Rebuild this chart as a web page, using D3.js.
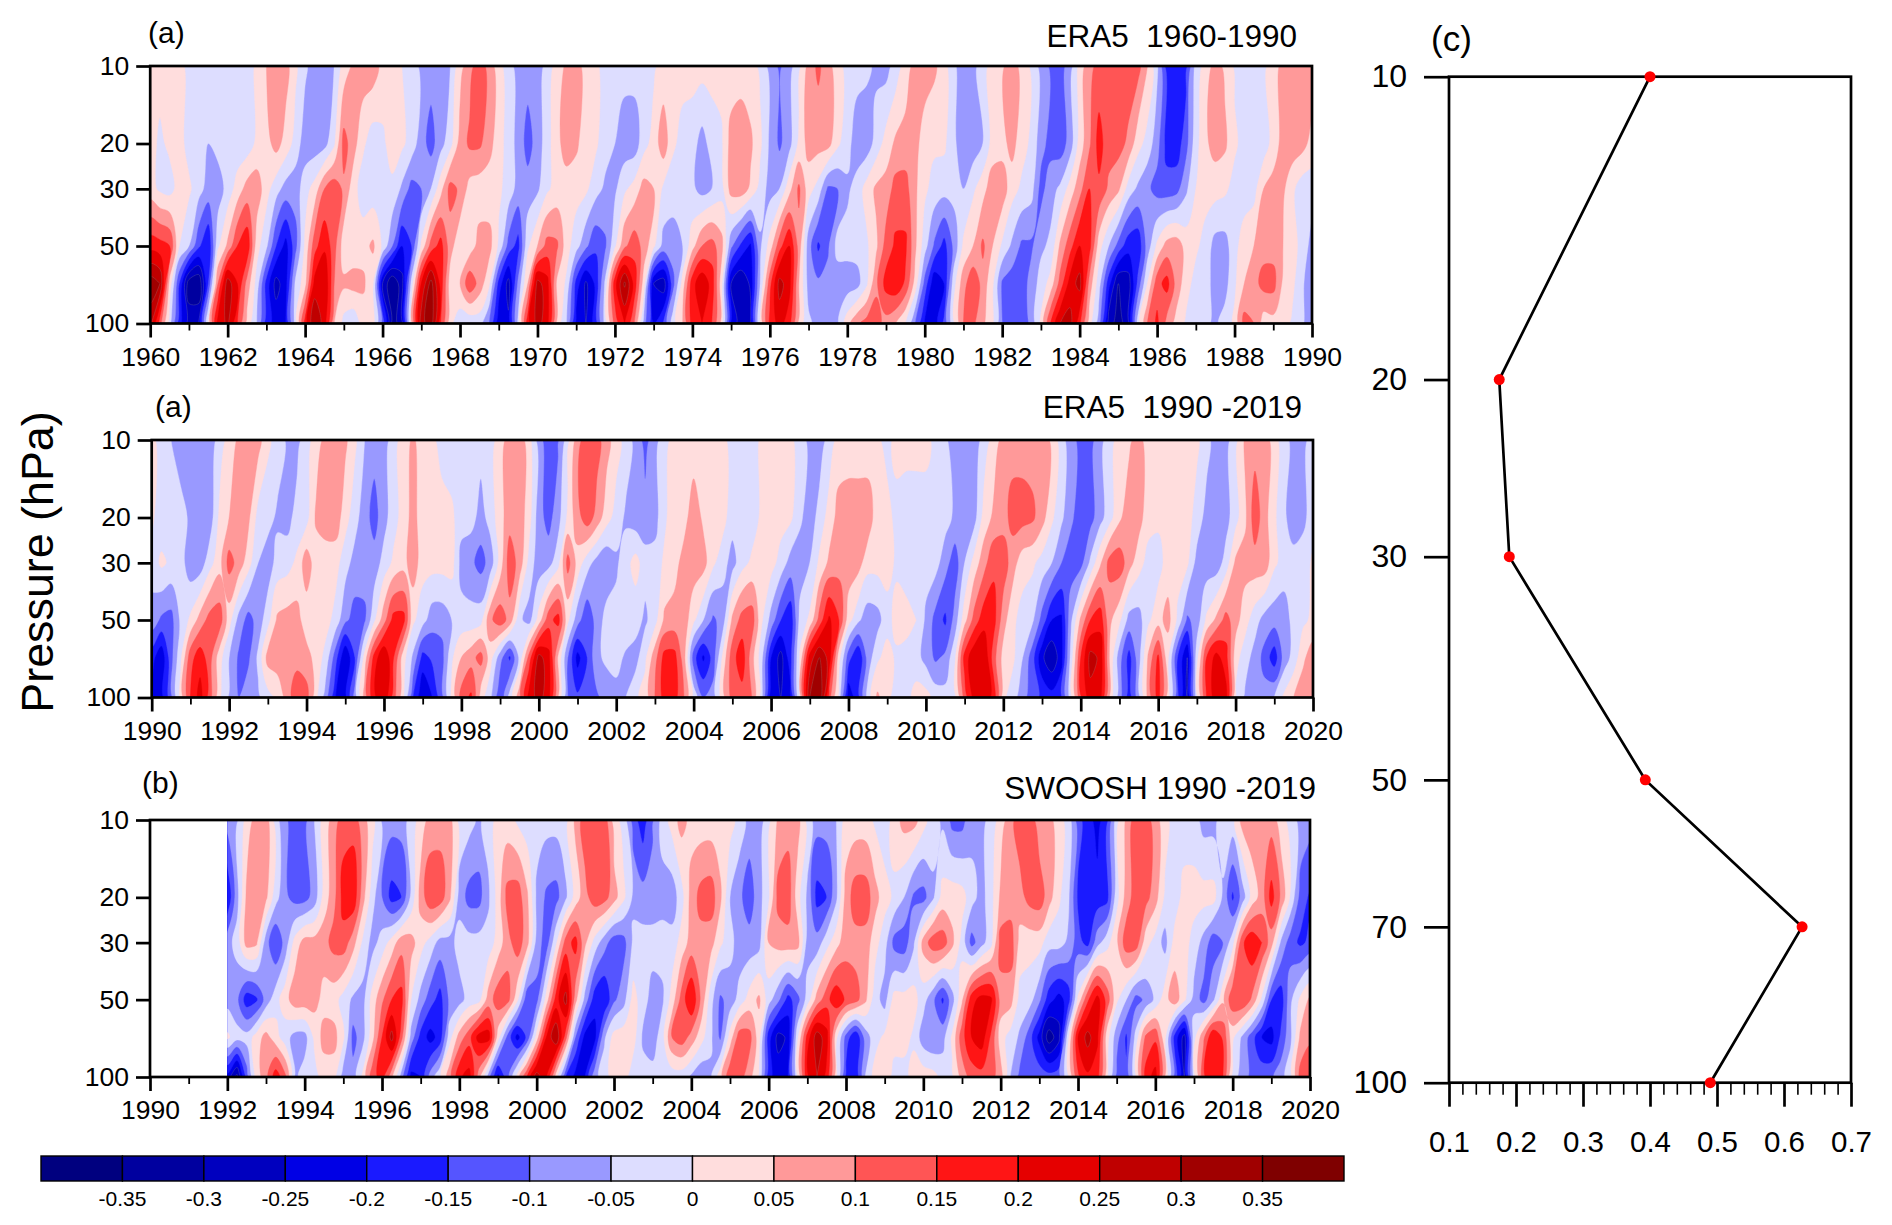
<!DOCTYPE html>
<html><head><meta charset="utf-8">
<script src="https://cdn.jsdelivr.net/npm/d3@7"></script>
<style>html,body{margin:0;padding:0;background:#fff}svg{display:block}text{font-family:"Liberation Sans",Arial,sans-serif;fill:#000}</style>
</head><body><svg id="c" width="1892" height="1225"></svg>
<script>
// shared levels and labels (field values are in hundredths)
const pressureLevels=[10,20,30,50,70,100];
const pressureTicks=[10,20,30,50,100];
const contourLevels=[-35,-30,-25,-20,-15,-10,-5,0,5,10,15,20,25,30,35];
const bandColors=["#00007f","#00009f","#0000bf","#0000e5","#1a1aff","#5555ff","#9999ff","#ddddff","#ffdddd","#ff9999","#ff5555","#ff1515","#e50000","#bf0000","#a00000","#7f0000"];
const colorbarLabels=["-0.35","-0.3","-0.25","-0.2","-0.15","-0.1","-0.05","0","0.05","0.1","0.15","0.2","0.25","0.3","0.35"];

// Panel 1: ERA5 1960-1990, four samples a year
const early10=[2,2,2,2,-2,-3,-3,-3,-3,-3,-3,1,5,8,7,1,-4,-8,-8,-5,2,6,8,8,3,2,0,-3,-6,-8,-8,-5,3,8,13,8,2,-3,-7,-8,-8,-3,2,6,7,3,1,-2,-3,-3,-3,-3,-1,2,2,2,2,2,2,2,2,2,2,-1,-7,-11,-7,-2,7,11,7,2,-2,-3,-4,-6,-7,-3,2,7,8,6,2,-4,-8,-7,-2,2,4,8,3,-1,-7,-11,-12,-8,2,8,12,13,13,13,12,5,-4,-18,-20,-17,-3,2,7,4,-1,-3,-3,-1,2,7,8,8,8];
const early20=[2,-1,1,2,-2,-3,-5,-3,-3,-3,-3,1,3,7,3,-2,-8,-8,-7,-1,12,7,1,-3,-1,2,1,-2,-8,-12,-7,-2,7,11,11,7,2,-2,-7,-12,-8,-2,3,8,6,2,1,-3,-5,-8,-8,-2,2,8,1,-2,-3,-7,-3,-1,7,9,6,1,-6,-11,-7,1,7,7,7,1,-3,-8,-8,-3,2,6,7,7,2,1,1,-4,-8,-8,-5,2,3,7,2,-1,-8,-12,-13,-8,2,9,17,12,12,9,2,-2,-8,-17,-18,-12,-2,4,7,6,1,-2,-3,-3,2,7,8,7,3];
const early30=[2,-1,-2,2,1,-3,-7,-8,-3,2,7,8,2,-3,-7,-8,-2,2,10,13,9,2,-3,-3,0,-1,-6,-12,-10,-5,3,12,9,3,2,2,1,-2,-7,-8,-6,-1,2,2,2,1,-3,-6,-6,-1,2,7,5,-1,-3,-3,-4,-7,-5,-2,7,8,4,-2,-7,-5,3,11,2,-2,-11,-10,-6,-3,2,6,7,12,12,6,1,-2,-3,-3,-5,-1,3,8,8,2,-1,-3,-12,-7,-4,2,8,15,14,9,6,-2,-6,-9,-12,-13,-12,-6,0,2,2,1,-2,-3,-2,5,7,6,1,-3,-3];
const early50=[18,17,15,0,-5,-14,-20,-1,6,15,19,2,-4,-15,-22,-12,1,13,19,12,2,2,3,6,-1,-10,-20,-15,1,12,17,7,1,2,7,7,-1,-12,-17,-1,5,12,11,2,-3,-9,-14,-11,-1,9,13,8,1,-7,-7,-5,3,10,12,7,-9,-16,-21,-6,2,13,20,8,-8,-16,-11,-3,-3,-3,-1,4,12,16,16,6,-3,-11,-17,-9,1,5,11,5,-1,-6,-11,-11,-6,-4,6,13,20,17,2,-5,-12,-18,-19,-8,1,7,8,3,1,-2,-7,-7,-2,3,5,8,8,5,2,-2,-7];
const early70=[33,30,3,-15,-33,-35,-15,10,28,20,8,-2,-17,-27,-22,-4,3,22,25,10,6,7,6,1,-25,-35,-27,-3,20,32,18,2,5,14,8,1,-17,-27,-9,5,27,22,4,-1,-17,-26,-19,-4,18,31,18,2,-25,-28,-12,2,18,24,18,2,-25,-30,-24,-5,13,27,22,5,-7,-9,-8,-8,-8,-7,-1,9,17,19,14,3,-12,-24,-20,-2,8,14,8,1,-11,-13,-13,-8,-3,2,12,22,27,8,-3,-18,-30,-28,-14,0,13,17,8,2,-2,-3,-7,-7,-1,5,8,12,12,4,1,-4,-10];
const early100=[27,12,-3,-18,-27,-25,1,22,26,15,3,-5,-18,-22,-20,-3,17,30,22,5,-2,-4,2,2,-12,-32,-28,3,28,33,15,1,-3,-4,-3,-10,-24,-24,-4,18,27,22,3,-5,-22,-25,-18,-3,12,20,10,-8,-20,-15,-2,5,17,20,15,3,-22,-27,-25,1,16,22,17,3,-4,-7,-7,-6,3,9,12,12,8,5,0,-10,-21,-23,-14,-1,10,11,6,1,-10,-13,-13,-9,1,15,25,27,16,2,-8,-28,-32,-28,-3,10,16,8,3,-1,-3,-4,-6,-3,1,12,10,2,3,2,-1,-4,-10];

// Panel 2: ERA5 1990-2019
const late10=[2,-3,-5,-8,-8,-8,-8,-3,2,6,8,7,1,-2,-6,-7,-2,2,7,8,6,1,-5,-8,-8,-2,2,6,2,1,-2,-3,-3,-3,-3,-2,2,8,8,2,-8,-13,-11,-2,8,13,12,7,2,-2,-7,-12,-7,-2,2,2,2,2,2,2,-3,-3,-3,1,2,2,1,-2,-7,-8,-3,2,2,2,2,1,-2,2,2,2,2,-2,-4,-8,-8,-8,-3,2,7,8,8,8,8,4,-3,-8,-12,-12,-7,-2,2,4,7,2,2,0,2,2,1,-3,-8,-7,-2,6,8,8,2,-3,-7,-7,-2];
const late20=[1,-3,-3,-3,-6,-8,-8,1,5,8,6,-2,-3,-6,-7,-3,-2,6,8,8,2,-3,-8,-12,-7,-2,2,7,2,2,2,1,-3,-3,-7,-3,3,8,8,2,-8,-12,-7,1,8,13,8,2,-2,-6,-8,-8,-7,-1,3,3,8,4,2,2,-3,-3,-3,1,2,2,1,-4,-8,-3,2,7,8,8,8,2,2,-2,-3,-3,-3,-3,-3,-6,-8,-7,2,6,8,12,12,11,7,1,-4,-9,-13,-12,-7,-2,4,8,7,2,1,2,2,2,-2,-7,-8,-7,-2,4,13,7,1,-4,-8,-6,-3];
const late30=[-3,1,-1,-3,-8,-8,-2,3,12,8,2,-5,-8,-3,-2,1,8,2,2,2,-3,-7,-8,-8,-3,1,3,8,2,2,2,2,-7,-9,-12,-8,2,13,8,-2,-8,-7,-2,12,3,-3,-7,-9,-6,-2,2,-3,-3,1,3,7,8,7,1,-3,-7,-2,1,2,2,-2,-7,-8,-5,1,6,8,8,7,2,2,2,-1,-3,-3,-3,-3,-8,-13,-5,2,8,14,13,7,2,1,-2,-5,-10,-13,-12,-4,4,12,13,7,2,-2,-2,2,2,1,-7,-8,-8,-3,6,7,8,8,1,-2,-3,-3,1];
const late50=[-7,-11,-12,-4,1,7,12,13,2,-7,-12,-8,-2,6,7,7,2,2,2,-2,-9,-12,-11,-1,8,17,17,1,-3,-8,-8,-5,-3,-3,-2,9,13,8,-4,-7,2,13,17,1,-8,-14,-8,-3,-3,-1,-3,-6,-2,6,7,8,1,-5,-11,-8,6,12,13,1,-7,-15,-19,-3,1,12,21,15,2,-4,-8,-7,-2,2,2,0,-6,-12,-16,-8,3,12,18,17,7,1,-2,-4,-12,-20,-21,-6,6,15,18,6,1,-7,-7,-1,3,7,-1,-11,-8,1,6,12,7,2,-3,-7,-8,-8,-3,-1,1];
const late70=[-18,-24,-12,-1,13,18,12,2,-5,-11,-11,-4,7,8,8,8,7,3,-2,-13,-25,-15,2,17,25,15,2,-6,-17,-14,-12,-1,5,8,12,2,-8,-16,-4,12,27,22,4,-10,-22,-15,-6,-4,-3,-6,-7,-1,8,17,17,7,-13,-21,-13,1,13,18,7,-3,-20,-27,-17,1,22,30,23,2,-13,-20,-8,-1,2,-1,-2,-3,-7,-11,-9,-1,17,24,25,12,3,1,-5,-13,-24,-29,-22,-3,15,27,24,4,-8,-17,-7,6,16,1,-15,-25,-2,15,22,17,2,-3,-7,-12,-18,-8,-3,4,8];
const late100=[-22,-22,-12,2,15,22,12,1,-6,-10,-7,-6,-2,1,7,14,12,1,-8,-20,-22,-8,7,19,24,12,1,-15,-25,-20,-12,1,12,16,2,-4,-15,-3,8,22,27,22,4,-10,-14,-13,-11,-8,-7,-5,-1,2,10,17,17,10,-2,-10,-8,3,12,13,10,-3,-25,-25,-22,1,30,35,12,-2,-24,-17,-3,6,1,-2,-2,2,2,-2,-3,-2,12,22,24,18,1,-3,-8,-13,-16,-18,-16,-2,14,23,22,3,-8,-18,-7,7,17,2,-14,-27,-2,15,23,22,-1,-6,-8,-8,-5,1,5,8,8];

// Panel 3: SWOOSH 1992-2019 (no data before 1992)
const swoosh10=[-8,-6,2,7,8,-3,-9,-13,-12,-5,2,7,13,13,7,2,-6,-8,-8,-3,2,7,8,7,-2,-3,-6,-3,2,2,-1,-3,-3,-3,-3,-2,6,13,13,13,2,-2,-13,-18,-11,-3,2,7,3,2,2,2,2,-2,-7,-8,-2,6,8,7,-2,-8,-8,-5,2,2,2,-1,-3,2,7,7,2,-3,-6,-12,-12,-7,-7,-3,2,8,13,13,7,7,2,-2,-13,-18,-22,-17,-2,6,13,13,7,2,-3,-3,-3,-7,-7,-2,-2,7,8,8,8,2,-2,-7,-8];
const swoosh20=[-20,-7,6,8,6,-3,-9,-12,-12,-8,2,8,17,19,7,-3,-10,-17,-15,-4,7,14,13,6,-7,-12,-12,-6,2,12,13,6,-6,-11,-12,-6,2,8,13,12,7,1,-6,-8,-8,-7,-8,-2,7,12,13,6,-5,-9,-13,-7,-1,12,13,2,-6,-17,-15,-6,7,13,13,7,2,-1,-5,-11,-12,-6,2,3,2,-3,-7,-2,6,7,8,12,13,7,1,-4,-16,-18,-18,-17,-2,7,13,12,7,-1,-3,2,2,2,2,-6,-16,-8,2,7,17,9,-1,-12,-16];
const swoosh30=[-7,-3,7,6,-8,-15,-8,2,7,7,8,12,13,7,-1,-7,-3,2,8,7,2,-2,-7,-7,-3,-3,-3,-3,2,8,13,7,-7,-13,-1,12,17,6,-2,-8,-13,-12,-4,-3,-3,-3,-3,2,7,8,7,1,-3,-8,-8,-7,5,7,8,7,-7,-8,-2,3,8,8,8,2,-3,-12,-13,-6,7,13,13,6,-2,-12,-7,-2,12,13,3,2,2,-3,-3,-6,-13,-17,-7,-2,4,13,13,2,-2,-7,2,2,-2,-7,-13,-10,-2,14,19,15,7,-6,-13,-16,-14];
const swoosh50=[-7,-9,-18,-16,-8,-2,3,8,8,7,3,2,-2,-6,-7,2,9,15,17,0,-7,-13,-17,-9,-7,-3,-2,7,13,12,1,-14,-12,2,17,27,7,-7,-18,-20,-11,-7,2,-3,-7,-6,2,12,20,9,-3,-11,-8,-3,2,6,-3,-9,-17,-12,-3,7,13,19,14,12,6,-3,-7,2,2,2,-3,-9,-16,-7,4,18,22,21,8,7,-2,-3,-9,-18,-22,-18,1,14,22,13,1,-5,-12,-9,-4,3,8,1,-7,-12,-6,4,14,15,9,-1,-15,-18,-6,1,6];
const swoosh70=[1,-3,-3,2,7,2,-3,-7,-7,1,7,7,1,-12,-7,3,15,27,12,-7,-17,-22,-18,-2,7,13,22,23,2,-12,-22,-14,2,20,30,12,-10,-22,-22,-6,2,3,2,-6,-8,-2,10,13,8,2,-4,-11,2,13,12,2,-18,-27,-24,-1,17,28,22,1,-12,-20,-8,-2,1,2,2,-1,-8,-10,-7,1,13,20,23,14,2,-2,-6,-13,-22,-33,-27,-1,20,27,21,2,-8,-16,-3,11,14,1,-17,-27,-2,9,20,14,1,-6,-13,-20,-22,-14,-6,6,9];
const swoosh100=[-22,-32,-13,2,8,18,11,-6,-3,-2,2,2,-8,-8,1,13,17,6,-8,-22,-20,-8,-1,8,19,22,7,-8,-22,-12,2,15,28,20,2,-15,-22,-20,-7,-2,2,2,-3,-3,-3,-3,-3,-3,-6,-9,-6,3,14,12,7,-1,-19,-22,-20,-1,19,25,18,1,-17,-20,-5,2,3,-2,-2,2,3,2,-2,-1,7,12,13,12,7,-5,-12,-13,-12,-13,-12,-1,14,19,17,1,-12,-14,-1,17,22,4,-12,-25,-3,14,20,15,-3,-7,-12,-12,-11,-7,-2,12,14];

// Panel (c)
const profilePressure=[10,20,30,50,70,100];
const profileValues=[0.4,0.175,0.19,0.393,0.627,0.49];
const profileTicks=[0.1,0.2,0.3,0.4,0.5,0.6,0.7];
const profileMinor=[0.12,0.14,0.16,0.18,0.22,0.24,0.26,0.28,0.32,0.34,0.36,0.38,0.42,0.44,0.46,0.48,0.52,0.54,0.56,0.58,0.62,0.64,0.66,0.68];

const svg=d3.select("#c");
const AW=2.7;
const ringLine=d3.line().curve(d3.curveCatmullRomClosed.alpha(0.5));
let clipId=0;

function drawPanel(o){
  const g=svg.append("g");
  const x=d3.scaleLinear().domain(o.xDomain).range([o.left,o.right]);
  const y=d3.scaleLog().domain([10,100]).range([o.top,o.bottom]);
  const n=o.rows[0].length, m=o.rows.length;
  const vals=o.rows.flat();
  const dataEnd=o.dataStart+(n-1)/4;
  const logP=d3.scaleLinear().domain(d3.range(m)).range(pressureLevels.map(Math.log10));
  const fx=c=>c<=0?x(o.dataStart)-6:c>=n?x(dataEnd)+6:x(o.dataStart+Math.max(0,Math.min(n-1,c-0.5))/4);
  const fy=c=>c<=0?y(10)-6:c>=m?y(100)+6:y(Math.pow(10,logP(Math.max(0,Math.min(m-1,c-0.5)))));
  const id="clip"+(clipId++);
  const rx=x(o.dataStart), rw=x(dataEnd)-rx;
  svg.append("clipPath").attr("id",id).append("rect").attr("x",rx).attr("y",o.top).attr("width",rw).attr("height",o.bottom-o.top);
  const field=g.append("g").attr("clip-path",`url(#${id})`);
  field.append("rect").attr("x",rx).attr("y",o.top).attr("width",rw).attr("height",o.bottom-o.top).attr("fill",bandColors[0]);
  const cg=d3.contours().size([n,m]);
  contourLevels.forEach((lv,i)=>{
    const c=cg.contour(vals,lv);
    let d="";
    c.coordinates.forEach(poly=>poly.forEach(ring=>{
      const pts=[];
      ring.slice(0,-1).forEach(p=>{
        const q=[fx(p[0]),fy(p[1])];
        const l=pts[pts.length-1];
        if(!l||Math.hypot(l[0]-q[0],l[1]-q[1])>0.3) pts.push(q);
      });
      if(pts.length>2) d+=ringLine(pts);
    }));
    field.append("path").attr("d",d).attr("fill",bandColors[i+1]).attr("fill-rule","evenodd")
      .attr("stroke",Math.abs(lv)>=25?"rgba(150,150,150,0.35)":bandColors[i+1])
      .attr("stroke-width",Math.abs(lv)>=25?0.7:0.4);
  });
  g.append("rect").attr("x",o.left).attr("y",o.top).attr("width",o.right-o.left).attr("height",o.bottom-o.top)
    .attr("fill","none").attr("stroke","#000").attr("stroke-width",AW);
  const years=d3.range(o.xDomain[0],o.xDomain[1]+1);
  const minor=g.append("g").attr("transform",`translate(0,${o.bottom})`)
    .call(d3.axisBottom(x).tickValues(years.filter(v=>(v-o.xDomain[0])%2)).tickSize(7).tickSizeOuter(0).tickFormat(""));
  const major=g.append("g").attr("transform",`translate(0,${o.bottom})`)
    .call(d3.axisBottom(x).tickValues(years.filter(v=>(v-o.xDomain[0])%2==0)).tickSize(14).tickPadding(9.5).tickSizeOuter(0).tickFormat(d3.format("d")));
  const left=g.append("g").attr("transform",`translate(${o.left},0)`)
    .call(d3.axisLeft(y).tickValues(pressureTicks).tickSize(14).tickPadding(7).tickSizeOuter(0).tickFormat(d3.format("d")));
  [minor,major,left].forEach(a=>{
    a.select(".domain").remove();
    a.selectAll("line").attr("stroke","#000").attr("stroke-width",AW);
    a.selectAll("text").attr("font-size",26.5).attr("font-family","Liberation Sans").attr("fill","#000");
  });
  minor.selectAll("line").attr("stroke-width",1.8);
  g.append("text").attr("x",o.tagX).attr("y",o.tagY).attr("font-size",30).text(o.tag);
  g.append("text").attr("x",o.titleX).attr("y",o.titleY).attr("font-size",31.5).attr("text-anchor","end").attr("xml:space","preserve").text(o.title);
}

drawPanel({rows:[early10,early20,early30,early50,early70,early100],xDomain:[1960,1990],dataStart:1960,left:150.2,right:1312,top:66,bottom:323.5,tag:"(a)",tagX:148,tagY:43,title:"ERA5  1960-1990",titleX:1297,titleY:47});
drawPanel({rows:[late10,late20,late30,late50,late70,late100],xDomain:[1990,2020],dataStart:1990,left:151.7,right:1313,top:440,bottom:697.5,tag:"(a)",tagX:155,tagY:417,title:"ERA5  1990 -2019",titleX:1302,titleY:418});
drawPanel({rows:[swoosh10,swoosh20,swoosh30,swoosh50,swoosh70,swoosh100],xDomain:[1990,2020],dataStart:1992,left:150,right:1310,top:820,bottom:1077,tag:"(b)",tagX:142,tagY:793,title:"SWOOSH 1990 -2019",titleX:1316,titleY:799});

svg.append("text").attr("transform","translate(53,562) rotate(-90)").attr("text-anchor","middle").attr("font-size",44.8).text("Pressure (hPa)");

// colorbar
const cbX=d3.scaleLinear().domain([0,16]).range([41,1344]);
const cb=svg.append("g");
bandColors.forEach((c,i)=>{
  cb.append("rect").attr("x",cbX(i)).attr("y",1156).attr("width",cbX(1)-cbX(0)).attr("height",25).attr("fill",c).attr("stroke","#000").attr("stroke-width",1.4);
});
colorbarLabels.forEach((t,i)=>{
  cb.append("text").attr("x",cbX(i+1)).attr("y",1206).attr("text-anchor","middle").attr("font-size",21).text(t);
});

// panel c
const px=d3.scaleLinear().domain([0.1,0.7]).range([1449,1851]);
const py=d3.scaleLog().domain([10,100]).range([76.7,1082.7]);
const c=svg.append("g");
c.append("rect").attr("x",1449).attr("y",76.7).attr("width",402).attr("height",1006).attr("fill","none").attr("stroke","#000").attr("stroke-width",AW);
const cx1=c.append("g").attr("transform","translate(0,1082.7)").call(d3.axisBottom(px).tickValues(profileMinor).tickSize(12).tickSizeOuter(0).tickFormat(""));
const cx2=c.append("g").attr("transform","translate(0,1082.7)").call(d3.axisBottom(px).tickValues(profileTicks).tickSize(24).tickPadding(24).tickSizeOuter(0).tickFormat(d3.format(".1f")));
const cy=c.append("g").attr("transform","translate(1449,0)").call(d3.axisLeft(py).tickValues(profilePressure).tickSize(25).tickPadding(17).tickSizeOuter(0).tickFormat(d3.format("d")));
[cx1,cx2,cy].forEach(a=>{
  a.select(".domain").remove();
  a.selectAll("line").attr("stroke","#000").attr("stroke-width",AW);
  a.selectAll("text").attr("font-size",29.5).attr("font-family","Liberation Sans").attr("fill","#000");
});
cy.selectAll("text").attr("font-size",32);
cx1.selectAll("line").attr("stroke-width",1.6);
const pts=profilePressure.map((p,i)=>[px(profileValues[i]),py(p)]);
c.append("path").attr("d",d3.line()(pts)).attr("fill","none").attr("stroke","#000").attr("stroke-width",2.7);
c.selectAll("circle").data(pts).join("circle").attr("cx",d=>d[0]).attr("cy",d=>d[1]).attr("r",5.5).attr("fill","#f00");
c.append("text").attr("x",1431).attr("y",51).attr("font-size",35).text("(c)");
</script></body></html>
